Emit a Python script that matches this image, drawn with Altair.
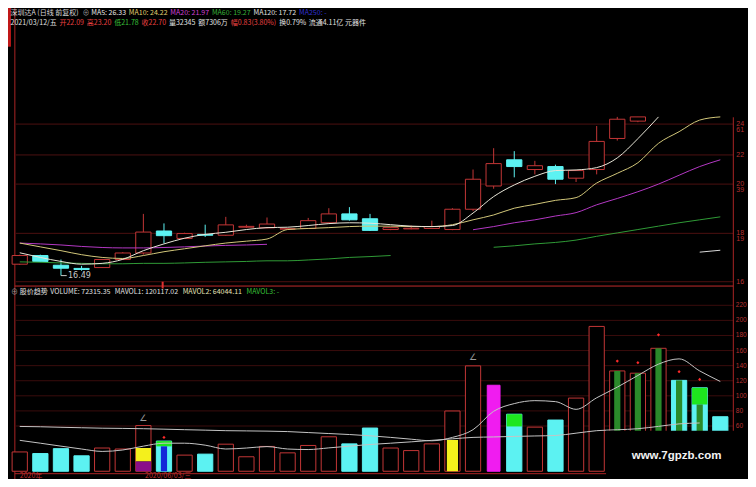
import altair as alt
import pandas as pd

# ---------------- layout helpers (reference pixel -> chart pixel) ----------------
W, H = 740, 471
SX, SY = W / 756.0, H / 487.0


def px(v):
    return v * SX


def py(v):
    return v * SY


RED = "#c23636"
CYAN = "#5cf2f2"
GRID = "#4c1010"
VGRID = "#3a0c0c"
FRAME = "#a82424"

# ---------------- data ----------------
# daily candles (index 0..30 visible)
c_open = [17.03, 17.44, 16.98, 16.83, 16.87, 17.25, 17.56, 18.60, 18.25, 18.44, 18.40,
          18.78, 18.75, 18.69, 18.72, 18.99, 19.41, 19.18, 18.67, 18.70, 18.72, 18.67,
          19.63, 20.73, 21.97, 21.51, 21.65, 21.10, 21.51, 22.98, 23.80]
c_close = [17.44, 17.16, 16.84, 16.78, 17.25, 17.56, 18.55, 18.38, 18.48, 18.40, 18.89,
           18.82, 18.93, 18.71, 19.09, 19.41, 19.13, 18.63, 18.76, 18.73, 18.81, 19.63,
           21.05, 21.79, 21.65, 21.69, 21.05, 21.46, 22.84, 23.89, 24.40]
c_high = [17.48, 17.48, 17.25, 16.95, 17.28, 17.60, 19.41, 18.96, 18.52, 18.90, 19.27,
          18.90, 19.24, 18.75, 19.22, 19.68, 19.73, 19.41, 18.78, 18.86, 19.09, 19.68,
          21.51, 22.52, 22.38, 21.92, 21.74, 21.48, 23.57, 24.30, 24.60]
c_low = [17.00, 17.12, 16.49, 16.72, 16.85, 17.23, 17.48, 18.02, 18.22, 18.32, 18.38,
         18.74, 18.73, 18.66, 18.70, 18.96, 19.09, 18.60, 18.64, 18.68, 18.70, 18.64,
         19.54, 20.60, 21.14, 21.28, 20.82, 20.92, 21.28, 22.88, 23.75]

N = None
ma5 = [17.57, 17.35, 17.16, 17.03, 17.07, 17.26, 17.67, 17.99, 18.26, 18.44, 18.54,
       18.67, 18.76, 18.78, 18.86, 18.95, 18.99, 18.97, 18.90, 18.83, 18.81, 18.86,
       19.45, 20.23, 20.78, 21.19, 21.46, 21.49, 21.60, 22.06, 22.97, 24.10]
ma10 = [18.03, 17.85, 17.67, 17.48, 17.35, 17.30, 17.44, 17.62, 17.76, 17.90, 18.03,
        18.12, 18.22, 18.67, 18.72, 18.76, 18.81, 18.83, 18.83, 18.81, 18.81, 18.90,
        19.13, 19.36, 19.68, 19.86, 20.05, 20.18, 20.87, 21.33, 21.83, 22.75, 23.30,
        23.85, 24.26]
ma20 = [18.03, 17.99, 17.94, 17.87, 17.82, 17.80, 17.80, 17.82, 17.85, 17.89, 17.92,
        17.94, 17.97, N, N, N, N, N, N, N, N, N,
        18.66, 18.81, 18.99, 19.13, 19.31, 19.47, 19.84, 20.14, 20.46, 20.82, 21.24,
        21.65, 21.97]
ma60 = [17.14, 17.12, 17.09, 17.07, 17.05, 17.05, 17.07, 17.07, 17.09, 17.12, 17.14,
        17.16, 17.19, 17.19, 17.23, 17.28, 17.35, 17.39, 17.44, N, N, N, N,
        17.83, 17.90, 17.99, 18.06, 18.17, 18.35, 18.51, 18.67, 18.83, 18.99, 19.13,
        19.27]
ma120 = [N] * 33 + [17.60, 17.69]

# volume (thousands of lots), index 0..34
vol = [25.6, 23.5, 30.0, 20.5, 30.8, 29.5, 60.6, 40.0, 21.4, 22.7, 35.9, 19.2, 32.9,
       24.4, 34.2, 45.7, 36.3, 57.3, 30.8, 27.4, 36.3, 79.9, 139.7, 114.0, 75.6, 58.5,
       67.9, 97.0, 192.0, 133.0, 130.0, 163.0, 120.5, 110.6, 72.3]
vol_kind = ["up", "down", "down", "down", "up", "up", "up", "down", "up", "down", "up",
            "up", "up", "up", "up", "up", "down", "down", "up", "up", "up", "up", "up",
            "mag", "down", "up", "down", "up", "up", "up", "up", "up", "down", "down",
            "down"]
mavol1 = [59.4, 59.0, 58.3, 57.7, 57.1, 56.8, 56.4, 55.8, 55.1, 54.5, 53.8, 53.5, 53.2,
          52.6, 51.3, 50.0, 48.7, 47.0, 44.9, 42.5, 40.4, 44.9, 55.1, 79.5, 89.7, 93.6,
          92.3, 82.1, 97.4, 111.5, 127.0, 142.0, 149.0, 133.0, 119.0]
mavol2 = [41.0, 37.2, 33.3, 29.5, 26.3, 28.2, 33.3, 37.2, 37.2, 34.6, 29.5, 30.8, 32.7,
          29.5, 28.8, 31.0, 33.3, 35.5, 37.2, 39.0, 41.0, 43.0, 44.9, 45.5, 46.2, 46.8,
          47.4, 50.5, 53.8, 55.0, 56.4, 59.5, 62.8, 64.0]

# coloured overlays inside volume bars
ov_full_i = [6, 6, 7, 24, 33]
ov_full_lo = [12.8, 0.0, 33.0, 59.4, 88.5]
ov_full_hi = [30.8, 12.8, 40.0, 75.6, 110.6]
ov_full_c = ["yellow", "purple", "green", "green", "green"]
ov_mid_i = [21]
ov_mid_lo = [0.0]
ov_mid_hi = [41.5]
ov_nar_i = [7, 29, 30, 31, 32, 33]
ov_nar_lo = [0.0, 0.0, 0.0, 0.0, 0.0, 0.0]
ov_nar_hi = [33.0, 133.0, 130.0, 163.0, 120.5, 88.5]
ov_nar_c = ["blue", "dgreen", "dgreen", "dgreen", "dgreen", "dgreen"]

dot_i = [7, 29, 30, 31, 32, 33]
dot_v = [44.9, 146.0, 144.0, 180.8, 132.0, 121.8]

price_grid = [23.66, 22.20, 20.82, 18.49, 16.20]
price_lab = ["24", "22", "20", "18", "16"]
price_lab2 = ["61", "", "39", "19", ""]
vol_grid = [60, 80, 100, 120, 140, 160, 180, 200, 220]
vol_lab = ["60", "80", "100", "120", "140", "160", "180", "200", "220"]

# header texts: (reference anchor x, text, colour)
hdr_line1 = [
    (2, "深圳达A (日线 前复权)", "#d8d8d8"),
    (62, "⊕", "#9a9a9a"),
    (69, "MA5: 26.33", "#e8e8e8"),
    (115, "MA10: 24.22", "#e0d070"),
    (155, "MA20: 21.97", "#d040d8"),
    (194, "MA60: 19.27", "#38b038"),
    (232, "MA120: 17.72", "#e0e0e0"),
    (273, "MA250: -", "#3030d0"),
]
hdr_line2 = [
    (2, "2021/03/12/五", "#e0e0e0"),
    (47, "开22.09", "#e84040"),
    (69, "高23.20", "#e84040"),
    (94, "低21.78", "#38c038"),
    (116, "收22.70", "#e84040"),
    (138, "量32345", "#e0e0e0"),
    (159, "额7306万", "#e0e0e0"),
    (187, "幅0.83(3.80%)", "#e84040"),
    (225, "换0.79%", "#e0e0e0"),
    (247, "流通4.11亿 元器件", "#e0e0e0"),
]
hdr_vol = [
    (3, "⊕", "#9a9a9a"),
    (12, "股价趋势", "#e0e0e0"),
    (31, "VOLUME: 72315.35", "#e0e0e0"),
    (85, "MAVOL1: 120117.02", "#e0e0e0"),
    (158, "MAVOL2: 64044.11", "#e4e2b8"),
    (218, "MAVOL3: -", "#38c038"),
]
date_labels = [(12, "2020年", "#c03030"), (140, "2020/06/03/三", "#c03030")]

# ---------------- scales ----------------
XS = alt.Scale(domain=[0, 34], range=[px(12), px(12 + 21.05 * 34)], nice=False, zero=False)
PS = alt.Scale(domain=[16, 24], range=[py(287.4), py(112.6)], nice=False, zero=False, clamp=True)
VS = alt.Scale(domain=[0, 220], range=[py(479), py(307.4)], nice=False, zero=False)


def X(f):
    return alt.X(f, type="quantitative", scale=XS, axis=None)


def YP(f):
    return alt.Y(f, type="quantitative", scale=PS, axis=None)


def YV(f):
    return alt.Y(f, type="quantitative", scale=VS, axis=None)


def hline(yref, x0, x1, color, w=1.0):
    return alt.Chart(pd.DataFrame({"a": [0]})).mark_rule(color=color, strokeWidth=w).encode(
        x=alt.value(px(x0)), x2=alt.value(px(x1)), y=alt.value(py(yref)))


def vline(xref, y0, y1, color, w=1.0):
    return alt.Chart(pd.DataFrame({"a": [0]})).mark_rule(color=color, strokeWidth=w).encode(
        x=alt.value(px(xref)), y=alt.value(py(y0)), y2=alt.value(py(y1)))


def text_w(s, fs):
    w = 0.0
    for ch in s:
        if ord(ch) > 0x2E80:
            w += 1.0
        elif ch.isdigit():
            w += 0.57
        elif ch.isupper():
            w += 0.68
        elif ch.islower():
            w += 0.53
        elif ch in ".:":
            w += 0.27
        elif ch in "/()":
            w += 0.36
        elif ch == " ":
            w += 0.26
        elif ch == "%":
            w += 0.88
        else:
            w += 0.9
    return w * fs


def flow(items, yref, fs, gap=2.5):
    rows, end = [], 0.0
    for xr, t, c in items:
        x = max(px(xr), end + gap)
        rows.append({"x": x, "y": py(yref), "t": t, "c": c})
        end = x + text_w(t, fs)
    return rows


layers = []

# price grid
pg = pd.DataFrame({"p": price_grid, "t": price_lab, "t2": price_lab2})
layers.append(alt.Chart(pg).mark_rule(color=GRID, strokeWidth=1).encode(
    x=alt.value(px(8)), x2=alt.value(px(741)), y=YP("p")))
# volume grid
vg = pd.DataFrame({"v": vol_grid, "t": vol_lab})
layers.append(alt.Chart(vg).mark_rule(color=VGRID, strokeWidth=1).encode(
    x=alt.value(px(8)), x2=alt.value(px(741)), y=YV("v")))

# frame lines
layers.append(vline(7, 0, 487, FRAME))
layers.append(vline(741, 113, 487, FRAME))
layers.append(hline(287.5, 7, 741, "#c02a2a"))
layers.append(hline(481.5, 7, 741, FRAME))
layers.append(alt.Chart(pd.DataFrame({"a": [0]})).mark_rect(color="#c01818").encode(
    x=alt.value(0), x2=alt.value(px(3)), y=alt.value(0), y2=alt.value(py(40))))
layers.append(vline(158, 283, 290, "#e03030", 2))

# axis labels (right side, narrow)
layers.append(alt.Chart(pg).mark_text(align="left", baseline="middle", fontSize=7,
                                      font="Liberation Sans", color="#b83030").encode(
    x=alt.value(px(744)), y=YP("p"), text="t:N"))
layers.append(alt.Chart(pg).mark_text(align="left", baseline="middle", fontSize=7, dy=6,
                                      font="Liberation Sans", color="#b83030").encode(
    x=alt.value(px(744)), y=YP("p"), text="t2:N"))
layers.append(alt.Chart(vg).mark_text(align="left", baseline="middle", fontSize=6.5,
                                      font="Liberation Sans", color="#b83030").encode(
    x=alt.value(px(743.5)), y=YV("v"), text="t:N"))

# ---------------- candles ----------------
cd = pd.DataFrame({"i": list(range(len(c_open))), "o": c_open, "c": c_close,
                   "h": c_high, "l": c_low})
cd["dir"] = ["up" if c >= o else "down" for o, c in zip(c_open, c_close)]
cd["blo"] = [min(o, c) for o, c in zip(c_open, c_close)]
cd["bhi"] = [max(o, c) for o, c in zip(c_open, c_close)]

dir_col = alt.Scale(domain=["up", "down"], range=[RED, CYAN])
dir_fill = alt.Scale(domain=["up", "down"], range=["#000000", CYAN])

layers.append(alt.Chart(cd).mark_rule(strokeWidth=1).encode(
    x=X("i"), y=YP("l"), y2="h:Q",
    color=alt.Color("dir:N", scale=dir_col, legend=None)))
layers.append(alt.Chart(cd).transform_calculate(
    x0="datum.i - 0.37", x1="datum.i + 0.37").mark_rect(strokeWidth=1).encode(
    x=X("x0"), x2="x1:Q", y=YP("blo"), y2="bhi:Q",
    fill=alt.Fill("dir:N", scale=dir_fill, legend=None),
    stroke=alt.Stroke("dir:N", scale=dir_col, legend=None)))

# low marker
layers.append(alt.Chart(pd.DataFrame({"i": [2], "p": [16.49], "t": ["16.49"]})).mark_text(
    align="left", baseline="middle", dx=7, fontSize=8, font="DejaVu Sans", color="#c8c8c8").encode(
    x=X("i"), y=YP("p"), text="t:N"))
layers.append(alt.Chart(pd.DataFrame({"i": [2], "i2": [2.28], "p": [16.49]})).mark_rule(
    color="#c8c8c8", strokeWidth=1).encode(x=X("i"), x2="i2:Q", y=YP("p")))


# ---------------- moving averages ----------------
def long_rows(name, vals):
    rows, seg = [], 0
    for i, v in enumerate(vals):
        if v is None:
            seg += 1
            continue
        rows.append({"i": i, "v": v, "s": name, "g": f"{name}-{seg}"})
    return rows


ma_rows = (long_rows("MA60", ma60) + long_rows("MA20", ma20) + long_rows("MA10", ma10)
           + long_rows("MA5", ma5) + long_rows("MA120", ma120))
mad = pd.DataFrame(ma_rows)
ma_col = alt.Scale(domain=["MA5", "MA10", "MA20", "MA60", "MA120"],
                   range=["#e8e6d8", "#d2c77a", "#b438c4", "#2f9a36", "#d8d8d8"])
layers.append(alt.Chart(mad).mark_line(strokeWidth=1, interpolate="monotone").encode(
    x=X("i"), y=YP("v"), color=alt.Color("s:N", scale=ma_col, legend=None),
    detail="g:N", order="i:Q"))

# ---------------- volume ----------------
vd = pd.DataFrame({"i": list(range(len(vol))), "v": vol, "k": vol_kind})
vd["b"] = 0.0
k_fill = alt.Scale(domain=["up", "down", "mag"], range=["#000000", CYAN, "#f01cf0"])
k_str = alt.Scale(domain=["up", "down", "mag"], range=[RED, CYAN, "#f01cf0"])
layers.append(alt.Chart(vd).transform_calculate(
    x0="datum.k == 'mag' ? datum.i - 0.31 : datum.i - 0.37",
    x1="datum.k == 'mag' ? datum.i + 0.31 : datum.i + 0.37").mark_rect(strokeWidth=1).encode(
    x=X("x0"), x2="x1:Q", y=YV("b"), y2="v:Q",
    fill=alt.Fill("k:N", scale=k_fill, legend=None),
    stroke=alt.Stroke("k:N", scale=k_str, legend=None)))

ov_col = alt.Scale(domain=["yellow", "purple", "green", "blue", "dgreen"],
                   range=["#f4f01c", "#8a0f8a", "#1ee61e", "#1428d8", "#2a8a2a"])
ofull = pd.DataFrame({"i": ov_full_i, "lo": ov_full_lo, "hi": ov_full_hi, "c": ov_full_c})
layers.append(alt.Chart(ofull).transform_calculate(
    x0="datum.i - 0.37", x1="datum.i + 0.37").mark_rect().encode(
    x=X("x0"), x2="x1:Q", y=YV("lo"), y2="hi:Q",
    color=alt.Color("c:N", scale=ov_col, legend=None)))
omid = pd.DataFrame({"i": ov_mid_i, "lo": ov_mid_lo, "hi": ov_mid_hi})
layers.append(alt.Chart(omid).transform_calculate(
    x0="datum.i - 0.27", x1="datum.i + 0.27").mark_rect(color="#f4f01c").encode(
    x=X("x0"), x2="x1:Q", y=YV("lo"), y2="hi:Q"))
onar = pd.DataFrame({"i": ov_nar_i, "lo": ov_nar_lo, "hi": ov_nar_hi, "c": ov_nar_c})
layers.append(alt.Chart(onar).transform_calculate(
    x0="datum.i - 0.15", x1="datum.i + 0.15").mark_rect().encode(
    x=X("x0"), x2="x1:Q", y=YV("lo"), y2="hi:Q",
    color=alt.Color("c:N", scale=ov_col, legend=None)))

mv = pd.DataFrame(long_rows("MAVOL1", mavol1) + long_rows("MAVOL2", mavol2))
layers.append(alt.Chart(mv).mark_line(strokeWidth=1, color="#c4c4c4", interpolate="monotone").encode(
    x=X("i"), y=YV("v"), detail="g:N", order="i:Q"))

dd = pd.DataFrame({"i": dot_i, "v": dot_v})
layers.append(alt.Chart(dd).mark_point(shape="diamond", filled=True, size=10, color="#ff2a2a",
                                       opacity=1).encode(x=X("i"), y=YV("v")))
zz = pd.DataFrame({"i": [6, 22], "v": [70.0, 152.0], "t": ["∠", "∠"]})
layers.append(alt.Chart(zz).mark_text(fontSize=9, color="#9a9a9a", font="DejaVu Sans").encode(
    x=X("i"), y=YV("v"), text="t:N"))

# ---------------- header texts ----------------
FS = 7
hd = pd.DataFrame(flow(hdr_line1, 5, FS) + flow(hdr_line2, 15, FS) + flow(hdr_vol, 294, FS))
layers.append(alt.Chart(hd).mark_text(align="left", baseline="middle", fontSize=FS,
                                      font="Noto Sans CJK SC").encode(
    x=alt.X("x:Q", scale=None, axis=None), y=alt.Y("y:Q", scale=None, axis=None),
    text="t:N", color=alt.Color("c:N", scale=None)))
dl = pd.DataFrame([{"x": px(a), "t": t, "c": c} for a, t, c in date_labels])
layers.append(alt.Chart(dl).mark_text(align="left", baseline="bottom", fontSize=7,
                                      font="Noto Sans CJK SC").encode(
    x=alt.X("x:Q", scale=None, axis=None), y=alt.value(H - 0.5),
    text="t:N", color=alt.Color("c:N", scale=None)))

# ---------------- watermark ----------------
layers.append(alt.Chart(pd.DataFrame({"a": [0]})).mark_rect(color="#000000").encode(
    x=alt.value(px(611)), x2=alt.value(W), y=alt.value(py(437)), y2=alt.value(H)))
layers.append(alt.Chart(pd.DataFrame({"t": ["www.7gpzb.com"]})).mark_text(
    fontSize=11.5, fontWeight="bold", font="Liberation Sans", color="#f2f2f2",
    align="center", baseline="middle").encode(
    x=alt.value(px(683)), y=alt.value(py(463)), text="t:N"))

chart = alt.layer(*layers).resolve_scale(
    x="independent", y="independent", color="independent", fill="independent",
    stroke="independent").properties(
    width=W, height=H, padding=0, background="#000000",
    autosize=alt.AutoSizeParams(type="none")).configure_view(stroke=None)

chart.save("out.html", embed_options={"renderer": "svg", "actions": False})
